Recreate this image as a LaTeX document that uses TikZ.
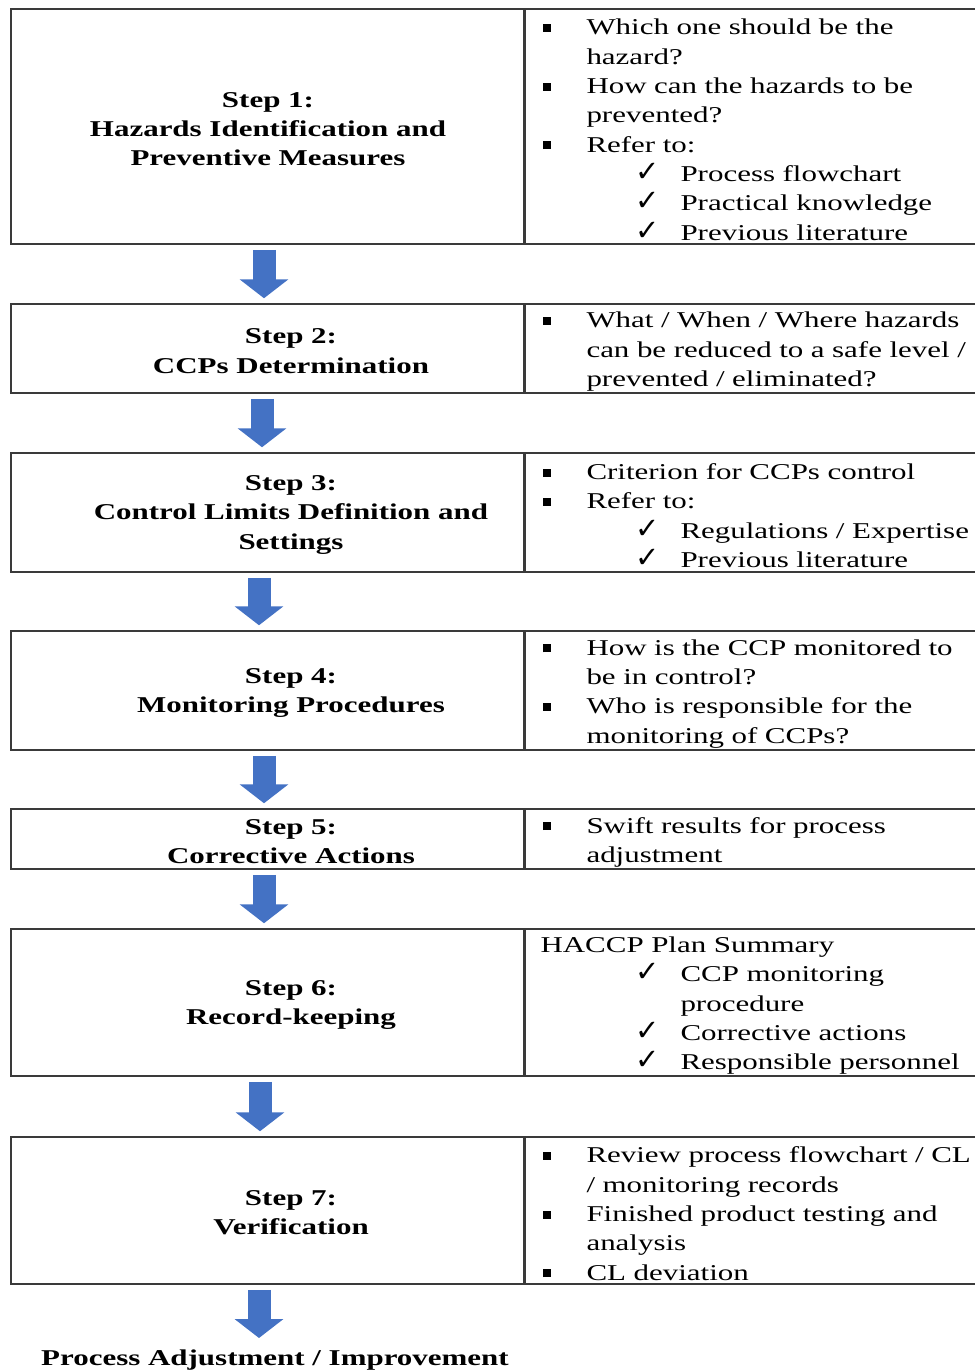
\documentclass[tikz,border=0pt]{standalone}
\usepackage{fontspec}
\setmainfont{Liberation Serif}[FakeStretch=1.37]
\newfontfamily\tickfont{DejaVu Sans}
\usetikzlibrary{arrows.meta}
\definecolor{arrowblue}{HTML}{4472C4}
\definecolor{boxline}{HTML}{3A3A3A}
\newcommand\bodysize{\fontsize{11.3pt}{14.65pt}\selectfont}
\newcommand\sqbul{\rule[1.5pt]{4pt}{4pt}}
% bullet item / tick item, hanging indent for wrapped lines
\newcommand\bitem{\par\hangindent=30.5pt\hangafter=1\noindent\hbox to 30.5pt{\hspace{8.5pt}\sqbul\hfil}}
\newcommand\citem{\par\hangindent=77.5pt\hangafter=1\noindent\hbox to 77.5pt{\hspace{55pt}{\tickfont\fontsize{14.5pt}{14.65pt}\selectfont ✓}\hfil}}
\newcommand\plainitem{\par\noindent\hspace*{7.5pt}}
\long\def\haccprow#1#2#3#4#5#6{
  % 1: name
  % 2: y centre
  % 3: height
  % 4: shift of step label
  % 5: step label
  % 6: right-hand text
  \node[leftbox, minimum height=#3*0.5pt] (#1box) at (267.5,#2) {};
  \node[steplabel] (#1) at ([xshift=#4,yshift=-1.25pt]#1box.center) {#5};
  \node[rightbox, minimum height=#3*0.5pt] (#1q) at (#1box.east) {\vspace*{-3.5pt}#6\par};
}

\begin{document}
\begin{tikzpicture}[x=0.5pt,y=-0.5pt,
    leftbox/.style={draw=boxline,line width=0.75pt,minimum width=256.5pt,inner sep=0pt},
    steplabel/.style={align=center,font=\bodysize\bfseries},
    rightbox/.style={draw=boxline,line width=0.75pt,anchor=west,text width=250pt,
      inner xsep=0pt,inner ysep=0pt,align=left,font=\bodysize},
    flow/.style={draw=arrowblue,line width=11.5pt,-{Triangle[width=24pt,length=9.5pt]},
      shorten <=2.5pt,shorten >=2.5pt}]
  \useasboundingbox (0,0) rectangle (975,1372);
  \clip (0,0) rectangle (975,1372);

  \haccprow{s1}{126.5}{235}{0.25pt}{Step 1:\\Hazards Identification and\\Preventive Measures}%
    {\bitem Which one should be the\newline hazard?
     \bitem How can the hazards to be\newline prevented?
     \bitem Refer to:
     \citem Process flowchart
     \citem Practical knowledge
     \citem Previous literature}
  \haccprow{s2}{348.5}{89}{11.75pt}{Step 2:\\CCPs Determination}%
    {\bitem What / When / Where hazards\newline can be reduced to a safe level /\newline prevented / eliminated?}
  \haccprow{s3}{512.5}{119}{11.75pt}{Step 3:\\Control Limits Definition and\\Settings}%
    {\bitem Criterion for CCPs control
     \bitem Refer to:
     \citem Regulations / Expertise
     \citem Previous literature}
  \haccprow{s4}{690.5}{119}{11.75pt}{Step 4:\\Monitoring Procedures}%
    {\bitem How is the CCP monitored to\newline be in control?
     \bitem Who is responsible for the\newline monitoring of CCPs?}
  \haccprow{s5}{839}{60}{11.75pt}{Step 5:\\Corrective Actions}%
    {\bitem Swift results for process\newline adjustment}
  \haccprow{s6}{1002.5}{147}{11.75pt}{Step 6:\\Record-keeping}%
    {\plainitem HACCP Plan Summary
     \citem CCP monitoring\newline procedure
     \citem Corrective actions
     \citem Responsible personnel}
  \haccprow{s7}{1210.5}{147}{11.75pt}{Step 7:\\Verification}%
    {\bitem Review process flowchart / CL\newline / monitoring records
     \bitem Finished product testing and\newline analysis
     \bitem CL deviation}

  \node[steplabel] (adjust) at (275,1360) {Process Adjustment / Improvement};
  \coordinate (adjtop) at (259,1343);

  \draw[flow] ([xshift=-1.75pt]s1box.south) -- ([xshift=-1.75pt]s2box.north);
  \draw[flow] ([xshift=-2.75pt]s2box.south) -- ([xshift=-2.75pt]s3box.north);
  \draw[flow] ([xshift=-4.25pt]s3box.south) -- ([xshift=-4.25pt]s4box.north);
  \draw[flow] ([xshift=-1.75pt]s4box.south) -- ([xshift=-1.75pt]s5box.north);
  \draw[flow] ([xshift=-1.75pt]s5box.south) -- ([xshift=-1.75pt]s6box.north);
  \draw[flow] ([xshift=-3.75pt]s6box.south) -- ([xshift=-3.75pt]s7box.north);
  \draw[flow] ([xshift=-4.25pt]s7box.south) -- (adjtop);
\end{tikzpicture}
\end{document}
